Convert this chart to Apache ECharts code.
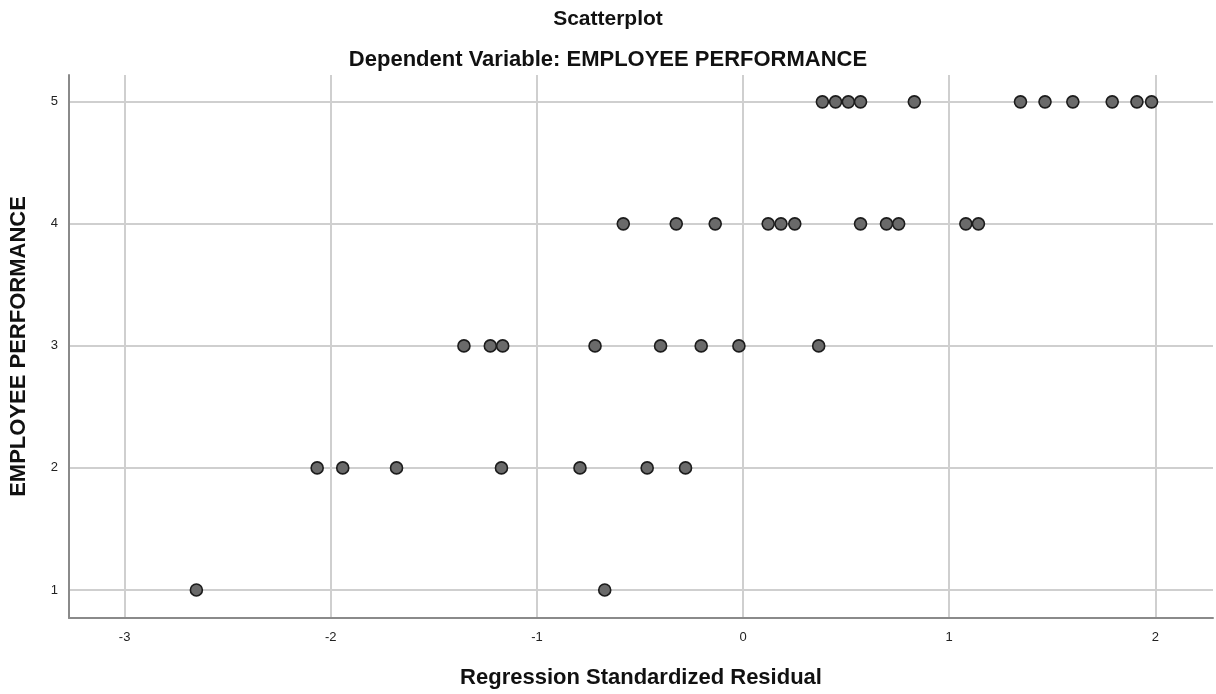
<!DOCTYPE html>
<html>
<head>
<meta charset="utf-8">
<script src="https://cdn.jsdelivr.net/npm/echarts@6/dist/echarts.min.js"></script>
<style>
  html, body { margin: 0; padding: 0; background: #fff; }
  #chart { width: 1216px; height: 694px; }
</style>
</head>
<body>
<div id="chart"></div>
<script>
// residuals, one list per performance score
const perfLevels = [1, 2, 3, 4, 5]
const resid1 = [-2.652, -0.671]
const resid2 = [-2.066, -1.942, -1.681, -1.172, -0.791, -0.465, -0.279]
const resid3 = [-1.354, -1.226, -1.166, -0.718, -0.400, -0.203, -0.020, 0.367]
const resid4 = [-0.581, -0.324, -0.135, 0.122, 0.184, 0.251, 0.570, 0.696, 0.755, 1.081, 1.142]
const resid5 = [0.385, 0.449, 0.511, 0.570, 0.831, 1.346, 1.465, 1.600, 1.791, 1.911, 1.982]

const xTicks = [-3, -2, -1, 0, 1, 2]
const yTicks = [1, 2, 3, 4, 5]

const xMin = -3.27
const xMax = 2.28
const yMin = 0.77
const yMax = 5.22

const points = []
;[resid1, resid2, resid3, resid4, resid5].forEach((row, i) => {
  row.forEach(r => points.push([r, perfLevels[i]]))
})

const chart = echarts.init(document.getElementById('chart'))
const option = {
  animation: false,
  textStyle: { fontFamily: 'Liberation Sans, Arial, sans-serif' },
  title: [
    {
      text: 'Scatterplot',
      left: 'center',
      top: 4,
      textStyle: { fontSize: 21, fontWeight: 'bold', color: '#111' }
    },
    {
      text: 'Dependent Variable: EMPLOYEE PERFORMANCE',
      left: 'center',
      top: 44,
      textStyle: { fontSize: 22, fontWeight: 'bold', color: '#111' }
    }
  ],
  grid: { left: 65, right: 3, top: 75, bottom: 69 },
  xAxis: {
    type: 'value',
    min: xMin,
    max: xMax,
    name: 'Regression Standardized Residual',
    nameLocation: 'middle',
    nameGap: 49,
    nameTextStyle: { fontSize: 22, fontWeight: 'bold', color: '#111' },
    axisLine: { show: true, onZero: false, lineStyle: { color: '#8a8a8a', width: 2 } },
    axisTick: { show: false, customValues: xTicks },
    axisLabel: { color: '#222', fontSize: 13, margin: 13, customValues: xTicks },
    splitLine: { show: true, lineStyle: { color: '#cfcfcf', width: 2 } }
  },
  yAxis: {
    type: 'value',
    min: yMin,
    max: yMax,
    name: 'EMPLOYEE PERFORMANCE',
    nameLocation: 'middle',
    nameGap: 39,
    nameTextStyle: { fontSize: 22, fontWeight: 'bold', color: '#111' },
    axisLine: { show: true, onZero: false, lineStyle: { color: '#8a8a8a', width: 2 } },
    axisTick: { show: false, customValues: yTicks },
    axisLabel: { color: '#222', fontSize: 13, margin: 11, customValues: yTicks },
    splitLine: { show: true, lineStyle: { color: '#cfcfcf', width: 2 } }
  },
  series: [
    {
      type: 'scatter',
      data: points,
      symbol: 'circle',
      symbolSize: 12,
      itemStyle: { color: '#6a6a6a', borderColor: '#1c1c1c', borderWidth: 1.6, opacity: 1 }
    }
  ]
}
chart.setOption(option)
</script>
</body>
</html>
